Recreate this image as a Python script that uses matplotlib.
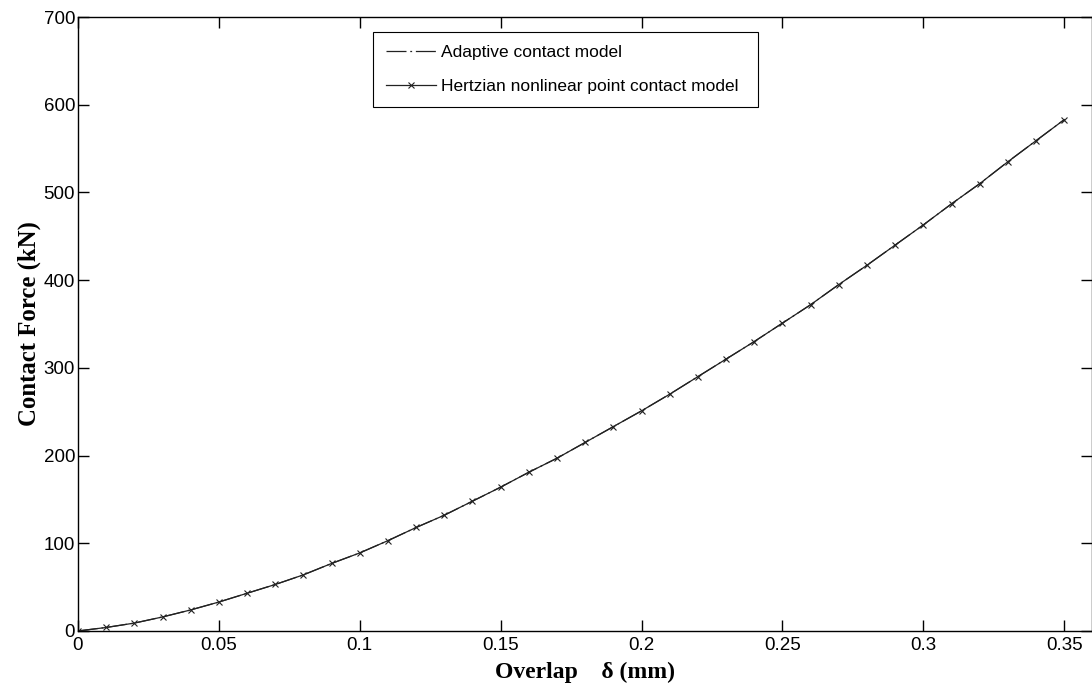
import matplotlib
matplotlib.use('Agg')
import matplotlib.pyplot as plt

# overlap (mm) and contact force (kN)
overlap = [0.0, 0.01, 0.02, 0.03, 0.04, 0.05, 0.06, 0.07, 0.08, 0.09,
           0.10, 0.11, 0.12, 0.13, 0.14, 0.15, 0.16, 0.17, 0.18, 0.19,
           0.20, 0.21, 0.22, 0.23, 0.24, 0.25, 0.26, 0.27, 0.28, 0.29,
           0.30, 0.31, 0.32, 0.33, 0.34, 0.35]
force_adaptive = [0, 4, 9, 16, 24, 33, 43, 53, 64, 77,
                  89, 103, 118, 132, 148, 164, 181, 197, 215, 233,
                  251, 270, 290, 310, 330, 351, 372, 395, 417, 440,
                  463, 487, 510, 535, 559, 583]
force_hertz = [0, 4, 9, 16, 24, 33, 43, 53, 64, 77,
               89, 103, 118, 132, 148, 164, 181, 197, 215, 233,
               251, 270, 290, 310, 330, 351, 372, 395, 417, 440,
               463, 487, 510, 535, 559, 583]

xticks = [0, 0.05, 0.1, 0.15, 0.2, 0.25, 0.3, 0.35]
xticklabels = ['0', '0.05', '0.1', '0.15', '0.2', '0.25', '0.3', '0.35']
yticks = [0, 100, 200, 300, 400, 500, 600, 700]

plt.rcParams['font.family'] = ['Liberation Sans', 'DejaVu Sans']

fig = plt.figure(figsize=(10.92, 6.86), dpi=100)
ax = fig.add_axes([0.0714, 0.0802, 0.929, 0.895])

ax.plot(overlap, force_adaptive, color='#222222', ls=(0, (16, 3, 1.5, 3)), lw=0.9,
        label='Adaptive contact model')
ax.plot(overlap, force_hertz, color='#222222', ls='-', lw=0.9,
        marker='x', ms=4, mew=0.8, label='Hertzian nonlinear point contact model')

ax.set_xlim(0, 0.36)
ax.set_ylim(0, 700)
ax.set_xticks(xticks)
ax.set_xticklabels(xticklabels)
ax.set_yticks(yticks)
ax.tick_params(direction='in', top=True, right=True, length=8, width=1,
               labelsize=13.5)
ax.tick_params(axis='x', pad=4)
ax.tick_params(axis='y', pad=2)
for s in ax.spines.values():
    s.set_color('black')
    s.set_linewidth(1)

ax.set_xlabel('Overlap    δ (mm)', family=['Liberation Serif', 'DejaVu Serif'],
              fontweight='bold', fontsize=17, labelpad=6)
ax.set_ylabel('Contact Force (kN)', family=['Liberation Serif', 'DejaVu Serif'],
              fontweight='bold', fontsize=17.8, labelpad=2)

leg = ax.legend(loc='upper left', bbox_to_anchor=(0.2906, 0.8534, 0.3793, 0.1222),
                mode='expand', borderaxespad=0, fontsize=12.5,
                fancybox=False, edgecolor='black', framealpha=1,
                handlelength=2.9, handletextpad=0.3, borderpad=0.75,
                labelspacing=1.08)
leg.get_frame().set_linewidth(0.8)

fig.savefig('out.png', dpi=100)
